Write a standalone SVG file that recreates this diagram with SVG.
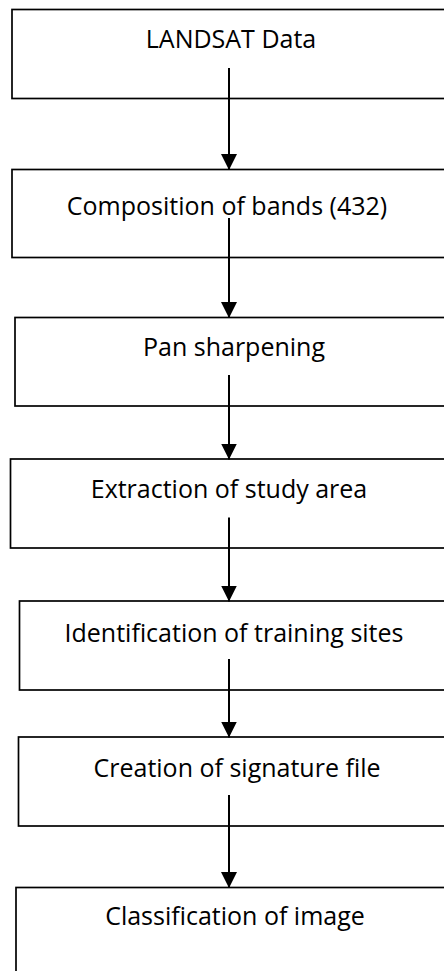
<svg xmlns="http://www.w3.org/2000/svg" width="444" height="971" viewBox="0 0 444 971">
<defs>
<style>
.box{fill:#fff;stroke:#000;stroke-width:1.7}
.lbl{font-family:"Open Sans","Liberation Sans",sans-serif;font-size:25px;fill:#000;text-anchor:middle}
.conn{stroke:#000;stroke-width:2;fill:none}
</style>
<marker id="ah" markerUnits="userSpaceOnUse" markerWidth="16" markerHeight="16" viewBox="0 0 15 15" refX="15" refY="7.5" orient="auto">
<path d="M0,0 L15,7.5 L0,15 z" fill="#000"/>
</marker>
</defs>
<rect width="444" height="971" fill="#fff"/>
<g id="n1"><rect class="box" x="12" y="9.5" width="450" height="89"/><text class="lbl" x="231" y="48">LANDSAT Data</text></g>
<g id="n2"><rect class="box" x="12" y="169.5" width="450" height="88"/><text class="lbl" x="227" y="215">Composition of bands (432)</text></g>
<g id="n3"><rect class="box" x="15" y="317.5" width="450" height="88.5"/><text class="lbl" x="234" y="356">Pan sharpening</text></g>
<g id="n4"><rect class="box" x="10.5" y="459" width="450" height="89"/><text class="lbl" x="229" y="498">Extraction of study area</text></g>
<g id="n5"><rect class="box" x="19.5" y="601" width="450" height="89"/><text class="lbl" x="234" y="641.5">Identification of training sites</text></g>
<g id="n6"><rect class="box" x="18.5" y="737" width="450" height="89"/><text class="lbl" x="237" y="776.5">Creation of signature file</text></g>
<g id="n7"><rect class="box" x="16" y="887.5" width="450" height="120"/><text class="lbl" x="235" y="925">Classification of image</text></g>
<g id="connectors">
<line class="conn" x1="229" y1="68" x2="229" y2="170" marker-end="url(#ah)"/>
<line class="conn" x1="229" y1="218" x2="229" y2="318" marker-end="url(#ah)"/>
<line class="conn" x1="229" y1="375" x2="229" y2="459.5" marker-end="url(#ah)"/>
<line class="conn" x1="229" y1="517.5" x2="229" y2="601.5" marker-end="url(#ah)"/>
<line class="conn" x1="229" y1="659" x2="229" y2="737.5" marker-end="url(#ah)"/>
<line class="conn" x1="229" y1="795" x2="229" y2="888" marker-end="url(#ah)"/>
</g>
</svg>
